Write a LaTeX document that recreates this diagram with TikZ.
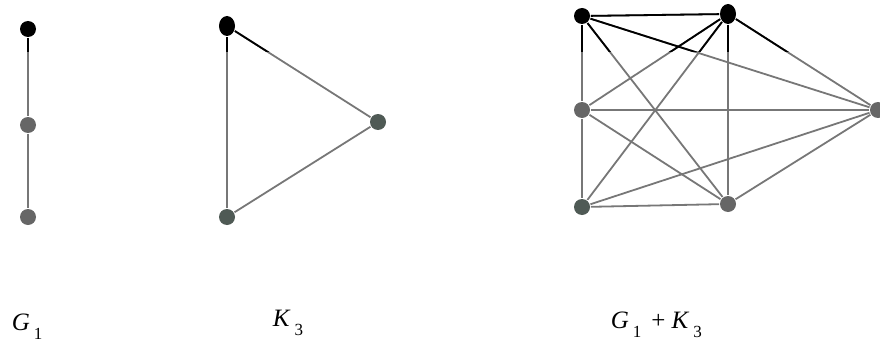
\documentclass[tikz,border=0pt]{standalone}
\usepackage{fontspec}
\setmainfont{Liberation Serif}
\usetikzlibrary{shapes.geometric}

\definecolor{vgray}{HTML}{666666}
\definecolor{vgreen}{HTML}{4F5A55}
\definecolor{egray}{HTML}{777777}

% italic letter with lowered index
\newcommand{\glab}[2]{\textit{#1}\kern4pt\raisebox{-9pt}{\fontsize{17}{17}\selectfont #2}}

\begin{document}
\begin{tikzpicture}[
    x=1pt, y=-1pt,
    line width=1.8pt,
    vtx/.style={circle, fill=#1, inner sep=0pt, minimum size=16pt},
    vtx/.default=vgray,
    topv/.style={ellipse, fill=black, inner sep=0pt, minimum width=16pt, minimum height=20pt},
    edge/.style={draw=egray},
    lab/.style={anchor=base west, inner sep=0pt, font=\fontsize{25}{28}\selectfont}
]
  \useasboundingbox (0,0) rectangle (880,345);

  %--- G1 ---
  \node[vtx=black] (g1) at (28,29)  {};
  \node[vtx]       (g2) at (28,125) {};
  \node[vtx]       (g3) at (28,217) {};

  %--- K3 ---
  \node[topv]        (ka) at (227,26)  {};
  \node[vtx=vgreen]  (kb) at (378,122) {};
  \node[vtx=vgreen]  (kc) at (227,217) {};

  %--- G1 + K3 ---
  \node[vtx=black]  (a) at (582,16)  {};
  \node[vtx]        (b) at (582,110) {};
  \node[vtx=vgreen] (c) at (582,207) {};
  \node[topv]       (d) at (728,14)  {};
  \node[vtx]        (e) at (728,204) {};
  \node[vtx]        (f) at (878,110) {};

  %--- edges ---
  \foreach \u/\v in {g1/g2, g2/g3, ka/kb, kb/kc, kc/ka,
                     a/b, b/c, d/e, d/f, e/f,
                     a/d, a/e, a/f, b/d, b/e, b/f, c/d, c/e, c/f}
    \draw[edge] (\u) -- (\v);

  % dark parts near the top
  \begin{scope}
    \clip (0,0) rectangle (880,52);
    \foreach \u/\v in {g1/g2, ka/kb, kc/ka, a/b, d/e, d/f,
                       a/d, a/e, a/f, b/d, c/d}
      \draw[black] (\u) -- (\v);
  \end{scope}

  %--- labels ---
  \node[lab] (lg) at (11,330)  {\glab{G}{1}};
  \node[lab] (lk) at (272,326) {\glab{K}{3}};
  \node[lab] (lj) at (610,328) {\glab{G}{1}\hspace{10pt}+\hspace{6pt}\glab{K}{3}};
\end{tikzpicture}
\end{document}
